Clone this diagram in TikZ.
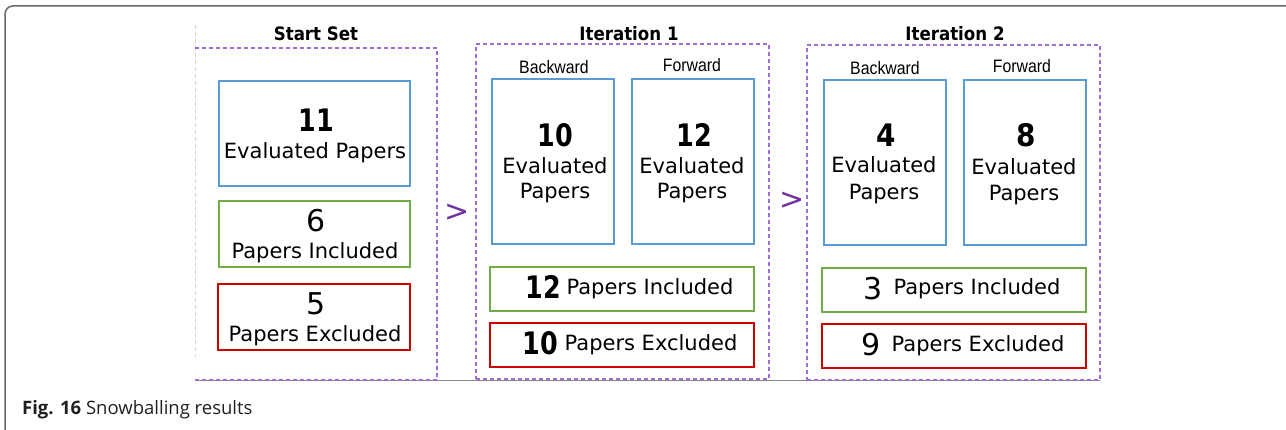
\documentclass[tikz,border=0pt]{standalone}
\usepackage{fontspec}
\usepackage{graphicx}
\setmainfont{DejaVu Sans}
\newfontfamily\headfont{Liberation Sans}
\newfontfamily\capfont{Open Sans}

\definecolor{evalblue}{RGB}{91,155,213}
\definecolor{incgreen}{RGB}{112,173,71}
\definecolor{excred}{RGB}{204,0,0}
\definecolor{dashpurple}{RGB}{160,110,210}
\definecolor{stepviolet}{RGB}{112,48,160}
\definecolor{framegray}{RGB}{105,105,105}
\definecolor{faintpink}{RGB}{225,205,215}
\definecolor{captext}{RGB}{35,31,32}

% condensed bold figures
\newcommand{\cnum}[1]{\scalebox{0.82}[1]{#1}}

\begin{document}
\begin{tikzpicture}[x=1pt,y=-1pt,
  box/.style={draw=#1, line width=2pt, inner sep=0pt, outer sep=0pt,
              anchor=north west, rectangle},
  group/.style={draw=dashpurple, line width=1.3pt, dash pattern=on 4pt off 3pt,
                inner sep=0pt, outer sep=0pt, anchor=north west, rectangle},
  title/.style={anchor=base, inner sep=0pt,
                font=\fontsize{18.5}{20}\selectfont\bfseries},
  side/.style={anchor=base, inner sep=0pt, font=\fontsize{18}{20}\headfont},
  lab/.style={anchor=base, inner sep=0pt, font=\fontsize{21}{24}\selectfont},
  bignum/.style={anchor=base, inner sep=0pt, font=\fontsize{31}{34}\selectfont\bfseries},
  num/.style={anchor=base, inner sep=0pt, font=\fontsize{30}{34}\selectfont},
  nextmark/.style={inner sep=0pt, text=stepviolet, font=\fontsize{30}{34}\selectfont}]

\useasboundingbox (0,0) rectangle (1286,430);

% outer figure frame (rounded top-left corner)
\draw[framegray, line width=1.5pt, rounded corners=8pt] (5,431) -- (5,6) -- (1290,6);

% common base line under the three groups
\draw[framegray!80, line width=1.2pt] (195,380.5) -- (1100,380.5);

% ---------- Start set ----------
\node[inner sep=0pt, outer sep=0pt, anchor=north west, minimum width=242pt,
      minimum height=332pt] (startgrp) at (195,48) {};
\draw[faintpink, line width=0.8pt, dash pattern=on 4pt off 3pt]
  ([yshift=23pt]startgrp.north west) -- ([yshift=23pt]startgrp.south west);
\draw[dashpurple, line width=1.3pt, dash pattern=on 4pt off 3pt]
  (startgrp.north west) -- (startgrp.north east) -- (startgrp.south east)
  -- (startgrp.south west);
\node[title] (starttitle) at (316,41) {\scalebox{0.9}[1]{Start Set}};

\node[box=evalblue, minimum width=191pt, minimum height=105pt] (seval) at (219,81) {};
\node[bignum] (sevaln) at (316,132) {\cnum{11}};
\node[lab] (sevalt) at (315,159) {Evaluated Papers};

\node[box=incgreen, minimum width=191pt, minimum height=66pt] (sinc) at (219,201) {};
\node[num] (sincn) at (316,232) {6};
\node[lab] (sinct) at (315,259) {Papers Included};

\node[box=excred, minimum width=192pt, minimum height=66pt] (sexc) at (218,284) {};
\node[num] (sexcn) at (316,315) {5};
\node[lab] (sexct) at (315,342) {Papers Excluded};

% ---------- Iteration 1 ----------
\node[group, minimum width=293pt, minimum height=335pt] (itgrpa) at (476,44) {};
\node[title] (itatitle) at (629,41) {\scalebox{0.9}[1]{Iteration 1}};
\node[side] (itaback) at (554,74) {\scalebox{0.88}[1]{Backward}};
\node[side] (itafwd) at (692,72) {\scalebox{0.88}[1]{Forward}};

\node[box=evalblue, minimum width=122pt, minimum height=165pt] (itabk) at (492,79) {};
\node[bignum] (itabkn) at (555,147) {\cnum{10}};
\node[lab] (itabkt) at (555,174) {Evaluated};
\node[lab] (itabkp) at (555,199) {Papers};

\node[box=evalblue, minimum width=122pt, minimum height=165pt] (itafw) at (632,79) {};
\node[bignum] (itafwn) at (694,147) {\cnum{12}};
\node[lab] (itafwt) at (692,174) {Evaluated};
\node[lab] (itafwp) at (692,199) {Papers};

\node[box=incgreen, minimum width=264pt, minimum height=44pt] (itainc) at (490,267) {};
\node[bignum] (itaincn) at (543,299) {\cnum{12}};
\node[lab] (itainct) at (650,295) {Papers Included};

\node[box=excred, minimum width=264pt, minimum height=44pt] (itaexc) at (490,323) {};
\node[bignum] (itaexcn) at (540,355) {\cnum{10}};
\node[lab] (itaexct) at (651,351) {Papers Excluded};

% ---------- Iteration 2 ----------
\node[group, minimum width=293pt, minimum height=335pt] (itgrpb) at (807,45) {};
\node[title] (itbtitle) at (955,41) {\scalebox{0.9}[1]{Iteration 2}};
\node[side] (itbback) at (885,75) {\scalebox{0.88}[1]{Backward}};
\node[side] (itbfwd) at (1022,73) {\scalebox{0.88}[1]{Forward}};

\node[box=evalblue, minimum width=122pt, minimum height=165pt] (itbbk) at (824,80) {};
\node[bignum] (itbbkn) at (886,147) {\scalebox{0.9}[1]{4}};
\node[lab] (itbbkt) at (884,173) {Evaluated};
\node[lab] (itbbkp) at (884,200) {Papers};

\node[box=evalblue, minimum width=122pt, minimum height=165pt] (itbfw) at (964,80) {};
\node[bignum] (itbfwn) at (1026,147) {\scalebox{0.9}[1]{8}};
\node[lab] (itbfwt) at (1024,175) {Evaluated};
\node[lab] (itbfwp) at (1024,201) {Papers};

\node[box=incgreen, minimum width=264pt, minimum height=44pt] (itbinc) at (822,268) {};
\node[num] (itbincn) at (873,300) {3};
\node[lab] (itbinct) at (977,295) {Papers Included};

\node[box=excred, minimum width=264pt, minimum height=44pt] (itbexc) at (822,324) {};
\node[num] (itbexcn) at (871,356) {9};
\node[lab] (itbexct) at (978,352) {Papers Excluded};

% ---------- step marks between groups ----------
\node[nextmark] (marka) at (457,213) {>};
\node[nextmark] (markb) at (792,201) {>};

% ---------- caption ----------
\node[anchor=base west, inner sep=0pt, text=captext,
      font=\fontsize{18.5}{22}\capfont] (caption) at (22,414)
  {\textbf{Fig. 16} Snowballing results};
\end{tikzpicture}
\end{document}
